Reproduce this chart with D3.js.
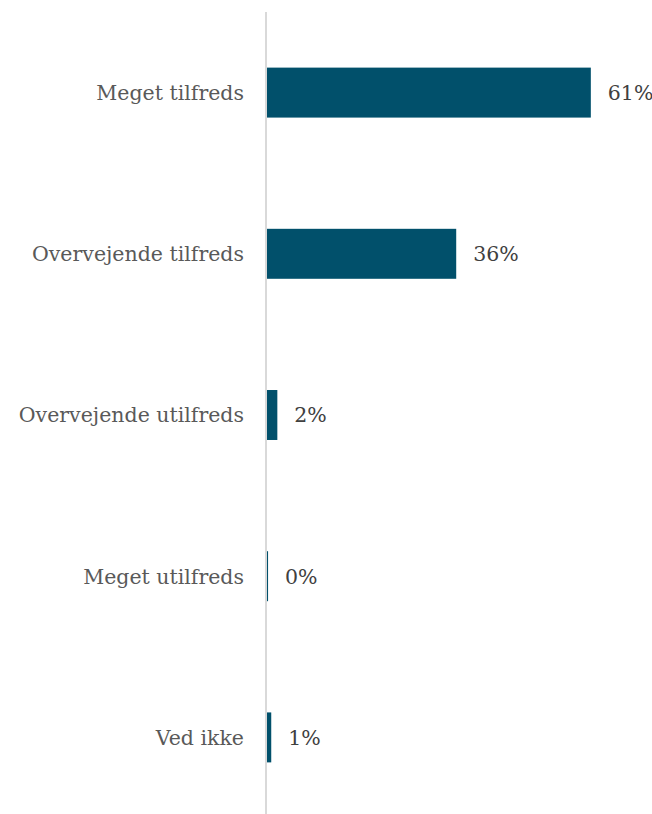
<!DOCTYPE html>
<html><head><meta charset="utf-8">
<script src="https://cdn.jsdelivr.net/npm/d3@7"></script>
<style>body{margin:0;background:#fff}</style>
</head><body>
<svg id="c" width="652" height="814"></svg>
<script>
const categories = ["Meget tilfreds","Overvejende tilfreds","Overvejende utilfreds","Meget utilfreds","Ved ikke"];
const values = [61.1, 35.7, 1.95, 0.2, 0.8];
const valueLabels = ["61%","36%","2%","0%","1%"];

const svg = d3.select("#c");
const font = "'DejaVu Serif', Georgia, serif";
const x = d3.scaleLinear().domain([0,100]).range([267, 797]);
const y = d3.scaleBand().domain(categories).range([12, 818]).paddingInner(0.69).paddingOuter(0.345);

svg.append("line").attr("x1",266).attr("x2",266).attr("y1",12).attr("y2",814)
  .attr("stroke","#d9d9d9").attr("stroke-width",2);

const rows = categories.map((c,i)=>({c, v:values[i], l:valueLabels[i]}));

svg.selectAll("rect.bar").data(rows).join("rect").attr("class","bar")
  .attr("x", x(0)).attr("y", d=>y(d.c))
  .attr("width", d=>x(d.v)-x(0)).attr("height", y.bandwidth())
  .attr("fill","#01506b");

svg.selectAll("text.cat").data(rows).join("text").attr("class","cat")
  .attr("x", 244).attr("y", d=>y(d.c)+y.bandwidth()/2).attr("dy","0.36em")
  .attr("text-anchor","end").attr("font-family",font).attr("font-size",20.5)
  .attr("fill","#595959").text(d=>d.c);

svg.selectAll("text.val").data(rows).join("text").attr("class","val")
  .attr("x", d=>x(d.v)+17).attr("y", d=>y(d.c)+y.bandwidth()/2).attr("dy","0.36em")
  .attr("font-family",font).attr("font-size",20.5)
  .attr("fill","#404040").text(d=>d.l);
</script>
</body></html>
